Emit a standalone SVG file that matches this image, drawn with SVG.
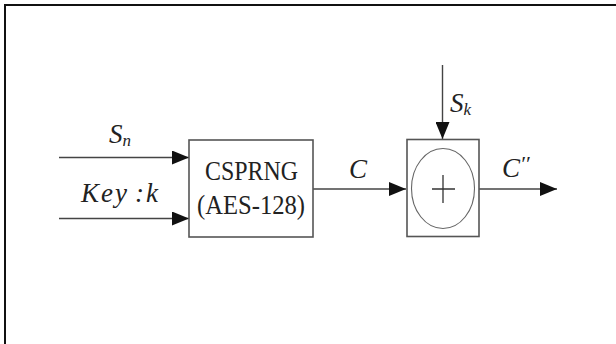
<svg xmlns="http://www.w3.org/2000/svg" width="616" height="344" viewBox="0 0 616 344">
<defs>
<marker id="ah" viewBox="0 0 17 14" refX="17" refY="7" markerWidth="17" markerHeight="14" markerUnits="userSpaceOnUse" orient="auto">
<path d="M0,0 L17,7 L0,14 Z" fill="#111"/>
</marker>
</defs>
<style>
.frame{stroke:#111;stroke-width:2;fill:none}
.box{fill:#fff;stroke:#555;stroke-width:1.6}
.wire{stroke:#444;stroke-width:1.4;fill:none}
.lbl{font-family:"Liberation Serif",serif;font-size:27px;fill:#222}
.it{font-style:italic}
</style>
<rect width="616" height="344" fill="#fff"/>
<g id="frame">
<path class="frame" d="M5,344 L5,5 L616,5"/>
</g>
<g id="connectors">
<line class="wire" x1="59" y1="157.5" x2="189" y2="157.5" marker-end="url(#ah)"/>
<line class="wire" x1="59" y1="218.5" x2="189" y2="218.5" marker-end="url(#ah)"/>
<line class="wire" x1="313" y1="189" x2="406" y2="189" marker-end="url(#ah)"/>
<line class="wire" x1="442.5" y1="65" x2="442.5" y2="139" marker-end="url(#ah)"/>
<line class="wire" x1="479" y1="189" x2="557" y2="189" marker-end="url(#ah)"/>
<text class="lbl it" x="109" y="143">S<tspan font-size="17" dy="3">n</tspan></text>
<text class="lbl it" y="202"><tspan x="81" textLength="46" lengthAdjust="spacing">Key</tspan><tspan x="135">:</tspan><tspan x="146">k</tspan></text>
<text class="lbl it" x="349" y="178">C</text>
<text class="lbl it" x="450" y="112">S<tspan font-size="17" dy="3">k</tspan></text>
<text class="lbl it" x="502" y="177">C<tspan font-size="22" dy="-6">′′</tspan></text>
</g>
<g id="csprng">
<rect class="box" x="189" y="140" width="124" height="97"/>
<text class="lbl" x="205" y="180" font-size="27" textLength="93" lengthAdjust="spacingAndGlyphs">CSPRNG</text>
<text class="lbl" x="197" y="214" font-size="27" textLength="108" lengthAdjust="spacingAndGlyphs">(AES-128)</text>
</g>
<g id="xor">
<rect class="box" x="407" y="139.5" width="72" height="97"/>
<ellipse cx="443" cy="188.5" rx="31.5" ry="40" fill="none" stroke="#666" stroke-width="1.1"/>
<path d="M432,189 H455 M443,175 V203" stroke="#333" stroke-width="1.3"/>
</g>
</svg>
